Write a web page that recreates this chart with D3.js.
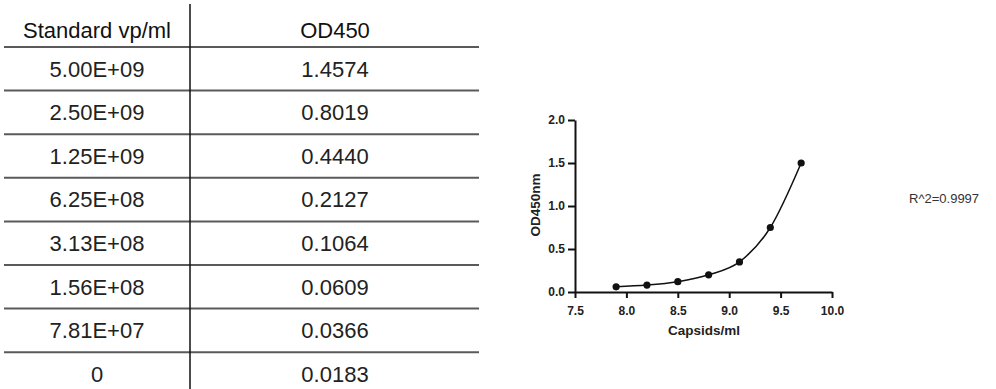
<!DOCTYPE html>
<html>
<head>
<meta charset="utf-8">
<script src="https://cdn.jsdelivr.net/npm/d3@7"></script>
<style>
  html, body { margin: 0; padding: 0; background: #fff; }
  svg { display: block; }
</style>
</head>
<body>
<div id="chart"></div>
<script>
// table contents
const headers = ["Standard vp/ml", "OD450"];
const standards = ["5.00E+09", "2.50E+09", "1.25E+09", "6.25E+08", "3.13E+08", "1.56E+08", "7.81E+07", "0"];
const odValues = ["1.4574", "0.8019", "0.4440", "0.2127", "0.1064", "0.0609", "0.0366", "0.0183"];

// plotted standard curve (log10 capsids/ml vs OD450nm)
const logCapsids = [7.9, 8.2, 8.5, 8.8, 9.1, 9.4, 9.7];
const od450nm = [0.06, 0.08, 0.12, 0.20, 0.35, 0.75, 1.50];
const xTicks = [7.5, 8.0, 8.5, 9.0, 9.5, 10.0];
const yTicks = [0.0, 0.5, 1.0, 1.5, 2.0];
const rSquared = "R^2=0.9997";

const width = 996, height = 389;

const svg = d3.select("#chart")
    .append("svg")
    .attr("width", width)
    .attr("height", height);

// ---- table ----
const table = svg.append("g");
const rowTop = 47, rowH = 43.6;
const col1 = 97, col2 = 335;

table.selectAll("line.h")
    .data(d3.range(standards.length))
    .enter()
    .append("line")
    .attr("class", "h")
    .attr("x1", 4)
    .attr("x2", 479)
    .attr("y1", i => rowTop + i * rowH)
    .attr("y2", i => rowTop + i * rowH)
    .attr("stroke", "#5a5a5a")
    .attr("stroke-width", 2);

table.append("line")
    .attr("x1", 190).attr("x2", 190)
    .attr("y1", 4).attr("y2", height)
    .attr("stroke", "#111")
    .attr("stroke-width", 1.5);

const tFont = "'Liberation Sans', Arial, sans-serif";

table.selectAll("text.head")
    .data(headers)
    .enter()
    .append("text")
    .attr("class", "head")
    .attr("x", (d, i) => i === 0 ? col1 : col2)
    .attr("y", 30)
    .attr("dy", "0.35em")
    .attr("text-anchor", "middle")
    .style("font-family", tFont)
    .style("font-size", "22px")
    .attr("fill", "#111")
    .text(d => d);

table.selectAll("text.std")
    .data(standards)
    .enter()
    .append("text")
    .attr("x", col1)
    .attr("y", (d, i) => rowTop + i * rowH + rowH / 2)
    .attr("dy", "0.35em")
    .attr("text-anchor", "middle")
    .style("font-family", tFont)
    .style("font-size", "22px")
    .attr("fill", "#222")
    .text(d => d);

table.selectAll("text.od")
    .data(odValues)
    .enter()
    .append("text")
    .attr("x", col2)
    .attr("y", (d, i) => rowTop + i * rowH + rowH / 2)
    .attr("dy", "0.35em")
    .attr("text-anchor", "middle")
    .style("font-family", tFont)
    .style("font-size", "22px")
    .attr("fill", "#222")
    .text(d => d);

// ---- standard curve plot ----
const x = d3.scaleLinear().domain([7.5, 10.0]).range([575, 832]);
const y = d3.scaleLinear().domain([0, 2.0]).range([292, 120]);

const plot = svg.append("g")
    .style("font-family", "Arial, 'Liberation Sans', sans-serif")
    .style("font-weight", "bold");

const xAxis = plot.append("g")
    .attr("transform", `translate(0,${y(0)})`)
    .call(d3.axisBottom(x).tickValues(xTicks).tickFormat(d3.format(".1f")).tickSize(6).tickSizeOuter(0));

const yAxis = plot.append("g")
    .attr("transform", `translate(${x(7.5)},0)`)
    .call(d3.axisLeft(y).tickValues(yTicks).tickFormat(d3.format(".1f")).tickSize(7).tickSizeOuter(0));

[xAxis, yAxis].forEach(ax => {
    ax.select(".domain").attr("stroke", "#111").attr("stroke-width", 2);
    ax.selectAll(".tick line").attr("stroke", "#111").attr("stroke-width", 2);
    ax.selectAll(".tick text")
        .attr("fill", "#222")
        .style("font-size", "12px")
        .style("font-family", "Arial, 'Liberation Sans', sans-serif")
        .style("font-weight", "bold");
});
xAxis.selectAll(".tick text").attr("y", 14);
yAxis.selectAll(".tick text").attr("x", -10);

plot.append("text")
    .attr("x", 704)
    .attr("y", 330)
    .attr("dy", "0.35em")
    .attr("text-anchor", "middle")
    .style("font-size", "13.5px")
    .attr("fill", "#222")
    .text("Capsids/ml");

plot.append("text")
    .attr("transform", `translate(535,205) rotate(-90)`)
    .attr("dy", "0.35em")
    .attr("text-anchor", "middle")
    .style("font-size", "13.5px")
    .attr("fill", "#222")
    .text("OD450nm");

const pts = logCapsids.map((v, i) => ({ x: v, y: od450nm[i] }));

plot.append("path")
    .datum(pts)
    .attr("fill", "none")
    .attr("stroke", "#111")
    .attr("stroke-width", 1.5)
    .attr("d", d3.line().x(d => x(d.x)).y(d => y(d.y)).curve(d3.curveMonotoneX));

plot.selectAll("circle")
    .data(pts)
    .enter()
    .append("circle")
    .attr("cx", d => x(d.x))
    .attr("cy", d => y(d.y))
    .attr("r", 3.6)
    .attr("fill", "#111");

svg.append("text")
    .attr("x", 909)
    .attr("y", 198)
    .attr("dy", "0.35em")
    .style("font-family", "Arial, 'Liberation Sans', sans-serif")
    .style("font-size", "13px")
    .attr("fill", "#333")
    .text(rSquared);
</script>
</body>
</html>
